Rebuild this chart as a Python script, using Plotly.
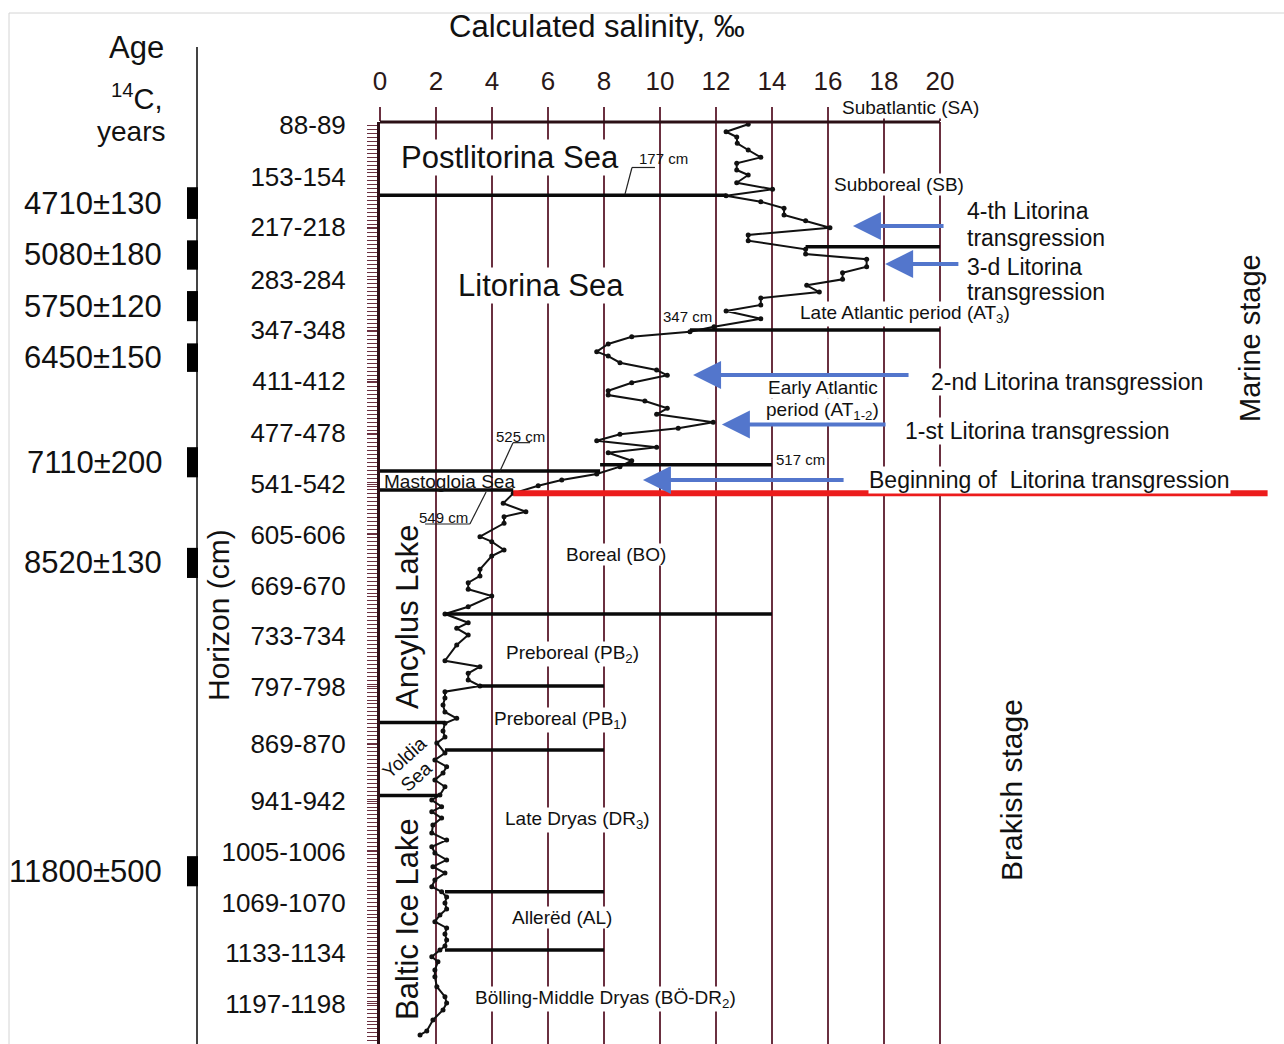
import plotly.graph_objects as go

W, H = 1284, 1044
FONT = "Liberation Sans, Arial, sans-serif"
GRID = "#6a3040"
INK = "#111111"
ARROW = "#5376cc"

# ---- calculated salinity profile (permille) against horizon depth (cm) ----
salinity = [
    13.15, 12.36, 12.74, 12.76, 13.15, 13.6, 12.74, 12.74, 13.15, 12.74,
    14.02, 12.36, 13.6, 14.43, 14.43, 15.2, 16.07, 13.15, 13.15, 15.2,
    15.2, 17.38, 17.38, 16.52, 16.52, 15.24, 15.69, 13.6, 13.6, 12.36,
    13.6, 11.93, 11.07, 8.99, 8.15, 7.74, 8.15, 8.57, 9.88, 10.26,
    8.99, 8.15, 8.15, 9.46, 10.26, 9.88, 11.9, 10.65, 8.57, 7.74,
    9.88, 8.15, 8.99, 8.57, 7.74, 6.49, 5.65, 4.76, 4.4, 5.21,
    4.43, 4.43, 3.57, 3.99, 4.43, 3.99, 3.57, 3.57, 3.15, 3.15,
    3.99, 3.15, 2.32, 3.15, 2.74, 3.15, 2.74, 2.32, 3.57, 3.15,
    3.15, 3.57, 2.32, 2.32, 2.25, 2.32, 2.74, 2.32, 2.25, 2.32,
    2.03, 2.32, 1.96, 2.38, 2.25, 1.96, 2.32, 2.14, 1.85, 2.2,
    1.85, 2.2, 1.89, 1.85, 2.38, 1.85, 1.96, 2.38, 1.89, 2.32,
    1.96, 1.85, 2.2, 2.38, 2.32, 2.38, 2.14, 1.96, 2.38, 2.32,
    2.38, 2.32, 2.14, 1.85, 2.07, 1.96, 1.96, 2.03, 2.32, 2.38,
    2.25, 1.89, 1.67, 1.43,
]
depth = [
    87.6, 97.0, 103.6, 111.6, 120.0, 129.3, 136.8, 145.3, 151.6, 161.3,
    169.6, 177.7, 185.3, 193.6, 202.1, 209.2, 218.1, 227.3, 234.5, 245.3,
    251.3, 257.9, 267.3, 274.9, 283.2, 290.8, 299.2, 306.8, 315.6, 323.2,
    332.9, 343.0, 349.3, 355.6, 364.8, 374.5, 380.0, 388.4, 397.6, 404.3,
    413.6, 423.7, 429.2, 436.7, 445.9, 453.5, 463.6, 471.2, 478.7, 486.8,
    495.1, 502.0, 512.1, 519.6, 528.8, 536.4, 543.6, 553.2, 565.8, 576.4,
    582.7, 591.0, 607.9, 614.2, 624.7, 632.3, 649.1, 657.5, 666.0, 674.3,
    682.8, 696.3, 705.5, 716.5, 723.5, 732.0, 744.6, 764.4, 772.0, 780.3,
    788.7, 796.3, 803.5, 811.5, 820.3, 829.1, 837.1, 843.4, 853.1, 860.7,
    868.2, 880.9, 889.7, 898.1, 906.1, 914.9, 923.4, 933.8, 940.1, 948.6,
    954.9, 962.9, 971.7, 981.8, 990.7, 999.1, 1007.0, 1015.8, 1024.3, 1032.3,
    1041.1, 1049.5, 1055.9, 1062.5, 1070.1, 1077.7, 1085.2, 1093.7, 1101.6, 1109.2,
    1116.8, 1124.4, 1129.4, 1137.9, 1144.2, 1154.6, 1163.1, 1175.7, 1188.3, 1196.3,
    1205.1, 1217.7, 1231.6, 1236.6,
]

salinity_ticks = [0, 2, 4, 6, 8, 10, 12, 14, 16, 18, 20]
horizon_labels = [
    "88-89", "153-154", "217-218", "283-284", "347-348", "411-412",
    "477-478", "541-542", "605-606", "669-670", "733-734", "797-798",
    "869-870", "941-942", "1005-1006", "1069-1070", "1133-1134", "1197-1198",
]
horizon_mid = [(int(a) + int(b)) / 2 for a, b in (s.split("-") for s in horizon_labels)]

# radiocarbon dated intervals (cm)
age_labels = ["4710±130", "5080±180", "5750±120", "6450±150", "7110±200", "8520±130", "11800±500"]
age_top = [167, 234, 298, 364, 495, 622, 1011]
age_bottom = [207, 271, 336, 400, 533, 660, 1049]

# horizontal boundaries: depth (cm), salinity span
bound_depth = [177, 242, 347, 525, 517, 549, 705.5, 796.3, 842.4, 877, 934.5, 1055.8, 1129.4]
bound_from = [0, 15.2, 11.07, 0, 7.86, 0, 2.32, 3.57, 0, 2.32, 0, 2.32, 2.32]
bound_to = [12.36, 20, 20, 7.86, 14, 4.76, 14, 8, 2.32, 8, 2.07, 8, 8]

# Litorina transgressions: arrow tip salinity, arrow tail salinity, depth
trans_tip = [16.89, 18.04, 11.18, 12.21, 9.39]
trans_tail = [20.18, 20.71, 18.93, 18.11, 16.61]
trans_depth = [215.9, 263.9, 403.9, 466.5, 536.4]


def px(x):
    return x / W


def py(y):
    return 1 - y / H


X_MAX = (1270 - 380) / 28.0
fig = go.Figure()

fig.add_trace(go.Scatter(
    x=salinity, y=depth, mode="lines+markers",
    line=dict(color="#111111", width=2),
    marker=dict(color="#111111", size=5),
    hoverinfo="skip", showlegend=False,
))

shapes = []
# top border of the diagram
shapes.append(dict(type="line", xref="x", yref="paper", x0=0, x1=20,
                   y0=py(122), y1=py(122), line=dict(color="#2b1016", width=3)))
# zone boundaries
for d, a, b in zip(bound_depth, bound_from, bound_to):
    shapes.append(dict(type="line", xref="x", yref="y", x0=a, x1=b, y0=d, y1=d,
                       line=dict(color="#0a0a0a", width=3.5)))
# beginning of Litorina transgression
shapes.append(dict(type="line", xref="x", yref="y", x0=4.76, x1=31.7, y0=553, y1=553,
                   line=dict(color="#ec1c1c", width=6)))
# leader lines of depth labels
leaders = [
    ((9.0, 142.1), (9.82, 142.1)), ((9.0, 142.1), (8.75, 175.6)),
    ((4.75, 489.3), (5.36, 489.3)), ((4.75, 489.3), (4.29, 524.7)),
    ((1.61, 591.9), (3.21, 591.9)), ((3.21, 591.9), (3.79, 551.5)),
]
for (x0, y0), (x1, y1) in leaders:
    shapes.append(dict(type="line", xref="x", yref="y", x0=x0, y0=y0, x1=x1, y1=y1,
                       line=dict(color="#222222", width=1.2)))
# age column
shapes.append(dict(type="line", xref="paper", yref="paper", x0=px(197), x1=px(197),
                   y0=py(47), y1=0, line=dict(color="#444444", width=2)))
for t, b in zip(age_top, age_bottom):
    shapes.append(dict(type="rect", xref="paper", yref="y", x0=px(187), x1=px(198),
                       y0=t, y1=b, fillcolor="#000000", line=dict(width=0)))
# frame of the whole page
shapes.append(dict(type="line", xref="paper", yref="paper", x0=px(9), x1=1,
                   y0=py(13), y1=py(13), line=dict(color="#d4d4d4", width=1)))
shapes.append(dict(type="line", xref="paper", yref="paper", x0=px(9), x1=px(9),
                   y0=py(13), y1=0, line=dict(color="#d4d4d4", width=1)))

ann = []


def text(s, x, y, size, xanchor="center", angle=0, bg=True, ref="data", color=INK, yanchor="middle"):
    d = dict(text=s, x=x, y=y, showarrow=False, xanchor=xanchor, yanchor=yanchor,
             textangle=angle, font=dict(family=FONT, size=size, color=color),
             borderpad=0)
    if ref == "data":
        d.update(xref="x", yref="y")
    else:
        d.update(xref="paper", yref="paper")
    if bg:
        d["bgcolor"] = "white"
    ann.append(d)


# headings
text("Calculated salinity, ‰", px(597), py(27), 31, ref="paper", bg=False)
text("Age", px(165), py(47), 31, xanchor="right", ref="paper", bg=False)
text("<sup>14</sup>C,", px(164), py(97), 29, xanchor="right", ref="paper", bg=False)
text("years", px(166), py(131), 28, xanchor="right", ref="paper", bg=False)
text("Horizon (cm)", px(218), py(615), 30, angle=-90, ref="paper", bg=False)
for lab, t, b in zip(age_labels, age_top, age_bottom):
    ann.append(dict(text=lab, xref="paper", yref="y", x=px(164), y=(t + b) / 2,
                    xanchor="right", yanchor="middle", showarrow=False,
                    font=dict(family=FONT, size=31, color=INK)))

# basin stages
text("Postlitorina Sea", 4.64, 130.1, 31)
text("Litorina Sea", 5.75, 291.6, 31)
text("Mastogloia Sea", 0.1, 537.7, 19, xanchor="left", bg=False)
text("Ancylus Lake", 0.96, 709.3, 31, angle=-90, bg=False)
text("Yoldia", 0.88, 887, 19, angle=-42, bg=False)
text("Sea", 1.3, 910, 19, angle=-42, bg=False)
text("Baltic Ice Lake", 0.96, 1090.3, 31, angle=-90, bg=False)

# depth marks
text("177 cm", 9.21, 142.8, 15, xanchor="left", bg=False, yanchor="bottom")
text("347 cm", 10.07, 329.5, 15, xanchor="left", bg=False)
text("517 cm", 14.11, 509.9, 15, xanchor="left", bg=False)
text("525 cm", 4.11, 480.9, 15, xanchor="left", bg=False)
text("549 cm", 1.36, 584.3, 15, xanchor="left", bg=False)

# climatic periods
text("Subatlantic (SA)", px(910), py(108), 19, ref="paper")
text("Subboreal (SB)", 18.54, 163, 19)
text("Late Atlantic period (AT<sub>3</sub>)", 18.75, 327, 19)
text("Early Atlantic", 15.82, 420.3, 19)
text("period (AT<sub>1-2</sub>)", 15.82, 449.3, 19)
text("Boreal (BO)", 8.43, 629.8, 19)
text("Preboreal (PB<sub>2</sub>)", 6.89, 755.9, 19)
text("Preboreal (PB<sub>1</sub>)", 6.43, 839.2, 19)
text("Late Dryas (DR<sub>3</sub>)", 7.04, 965.4, 19)
text("Allerëd (AL)", 6.5, 1089, 19)
text("Bölling-Middle Dryas (BÖ-DR<sub>2</sub>)", 8.04, 1191.2, 19)

# transgressions
text("4-th Litorina", 20.93, 197, 23, xanchor="left", bg=False)
text("transgression", 20.93, 231.1, 23, xanchor="left", bg=False)
text("3-d Litorina", 20.93, 267.7, 23, xanchor="left", bg=False)
text("transgression", 20.93, 299, 23, xanchor="left", bg=False)
text("2-nd Litorina transgression", 19.64, 412.7, 23, xanchor="left")
text("1-st Litorina transgression", 18.71, 474.6, 23, xanchor="left")
text("Beginning of\u00a0 Litorina transgression", 17.43, 536.4, 23, xanchor="left")

text("Marine stage", 31.07, 357.2, 29, angle=-90, bg=False)
text("Brakish stage", 22.57, 927.5, 30, angle=-90, bg=False)

for tip, tail, d in zip(trans_tip, trans_tail, trans_depth):
    ann.append(dict(text="", x=tip, y=d, ax=tail, ay=d, xref="x", yref="y",
                    axref="x", ayref="y", showarrow=True, arrowhead=2,
                    arrowsize=1.4, arrowwidth=4, arrowcolor=ARROW))

fig.update_layout(
    width=W, height=H,
    margin=dict(l=0, r=0, t=0, b=0),
    paper_bgcolor="white", plot_bgcolor="white",
    showlegend=False,
    shapes=shapes, annotations=ann,
    xaxis=dict(
        domain=[px(380), px(1270)], range=[0, X_MAX], side="top",
        tickmode="array", tickvals=salinity_ticks,
        ticks="outside", ticklen=14, tickwidth=2, tickcolor=GRID,
        showgrid=True, gridcolor=GRID, gridwidth=2,
        showline=False, zeroline=False, automargin=False,
        tickfont=dict(family=FONT, size=26, color="#2a1818"),
        ticklabelstandoff=7, fixedrange=True,
    ),
    yaxis=dict(
        domain=[0, py(122)], range=[1248, 84.7],
        tickmode="array", tickvals=horizon_mid, ticktext=horizon_labels,
        ticks="outside", ticklen=10, tickwidth=1, tickcolor="#6a3040",
        minor=dict(tickmode="linear", tick0=84, dtick=5, ticks="outside",
                   ticklen=10, tickwidth=1, tickcolor="#6a3040", showgrid=False),
        showline=True, linecolor="#2b0f16", linewidth=3,
        showgrid=False, zeroline=False, automargin=False,
        tickfont=dict(family=FONT, size=26, color=INK),
        ticklabelstandoff=16, fixedrange=True,
    ),
)

fig.write_html("out.html")
